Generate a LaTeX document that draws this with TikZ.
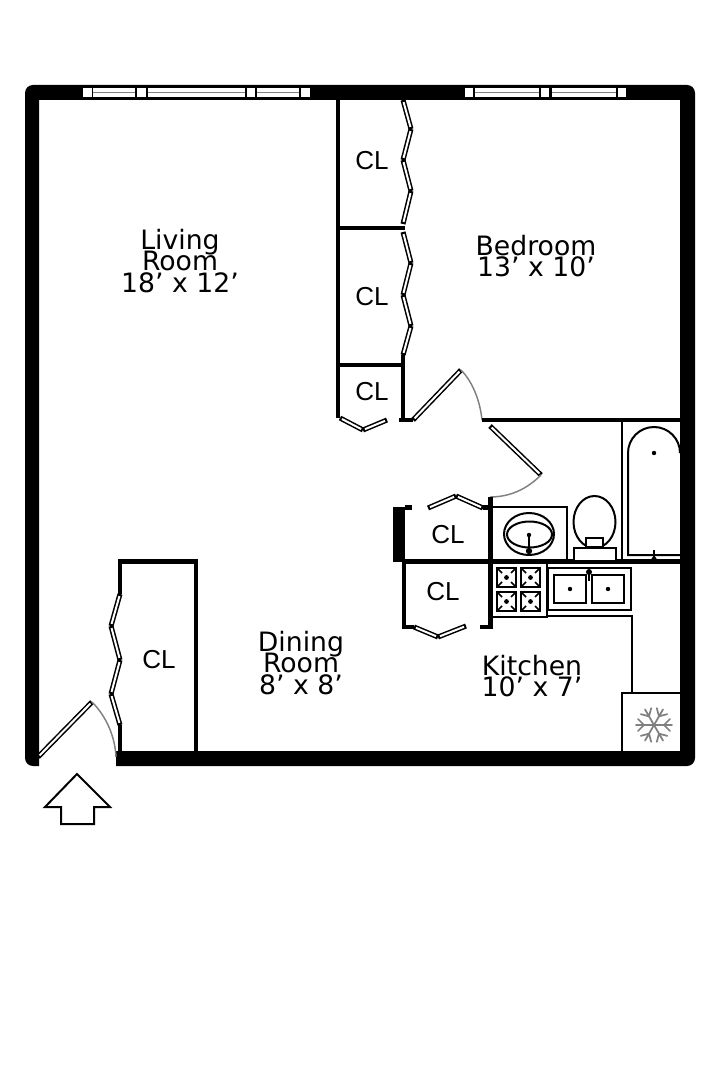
\documentclass[tikz,border=0pt]{standalone}
\usepackage{fontspec}
\setmainfont{Liberation Sans}
\newfontfamily\roomfont{DejaVu Sans}
\lineskiplimit=-30pt
\tikzset{
  wall/.style={line width=3.6pt,line cap=butt},
  thinwall/.style={line width=1.5pt},
  fixture/.style={line width=1.5pt},
  leafout/.style={draw=black,line width=3.8pt},
  leafin/.style={draw=white,line width=1.5pt,shorten <=1.6pt,shorten >=1.6pt},
  swing/.style={draw=black!50,line width=1.1pt},
  pane/.style={fill=white,draw=none},
  roomlabel/.style={font=\roomfont\fontsize{20}{16}\selectfont,align=center},
  closetlabel/.style={font=\fontsize{19.5}{20}\selectfont}
}
\newcommand{\leaf}[2]{\draw[leafout] (#1) -- (#2); \draw[leafin] (#1) -- (#2);}
\begin{document}
\begin{tikzpicture}[x=0.75pt,y=-0.75pt]
\useasboundingbox (0,0) rectangle (720,1080);
% outer walls
\fill (39,100) -- (39,766) [rounded corners=6pt] -- (25,766) -- (25,85) -- (695,85) -- (695,766) [sharp corners] -- (116,766) -- (116,751) -- (680,751) -- (680,100) -- cycle;
% windows
\foreach \a/\b in {83/92,137/146,247/255,301/310,465/473,541/549,618/626}
  \fill[pane] (\a,88) rectangle (\b,97);
\foreach \a/\b in {93/135,148/245,257/299,475/539,552/616}{
  \fill[pane] (\a,88) rectangle (\b,97);
  \draw[black!50,line width=1.2pt] (\a,92.5) -- (\b,92.5);
}
% closets by the bedroom
\draw[wall] (338,100) -- (338,418);
\draw[wall] (338,228) -- (405,228);
\draw[wall] (338,365) -- (405,365);
\draw[wall] (403,355) -- (403,422);
\draw[wall] (399,420) -- (413,420);
\leaf{403,100}{411,129} \leaf{411,129}{403,160} \leaf{403,160}{411,191} \leaf{411,191}{403,224}
\leaf{403,232}{411,263} \leaf{411,263}{403,295} \leaf{403,295}{411,326} \leaf{411,326}{403,355}
\leaf{340,418}{363,430} \leaf{363,430}{387,420}
% bedroom door and bath door
\leaf{413,420}{461,370}
\draw[swing] (461,370) .. controls (472,381) and (480,400) .. (482,420);
\draw[wall] (482,420) -- (680,420);
\leaf{490,426}{541,475}
\draw[swing] (541,475) .. controls (527,489) and (510,497) .. (490,497);
% walls round bath and kitchen
\draw[wall] (490.5,497) -- (490.5,629);
\draw[wall] (480,627) -- (492,627);
\draw[wall] (403,561.5) -- (680,561.5);
\draw[wall] (404,561.5) -- (404,629);
\draw[wall] (403,627) -- (414,627);
\fill (393,507) rectangle (405,562);
\draw[wall] (405,507.5) -- (412,507.5);
\draw[wall] (483,507.5) -- (490,507.5);
\leaf{428,508}{456,496} \leaf{456,496}{483,508}
\leaf{414,627}{438,637} \leaf{438,637}{466,626}
\draw[thinwall] (621.5,420) -- (621.5,561);
% tub
\draw[fixture] (680,555) -- (628,555) -- (628,453) arc[start angle=180,end angle=360,radius=26];
\fill (654,453) circle (2.2);
\draw[fixture] (654,550) -- (654,558);
\fill (650,561) -- (654,555) -- (658,561) -- cycle;
% vanity
\draw[fixture] (490,507) -- (567,507) -- (567,561);
\draw[fixture] (529,534) ellipse (25 and 21);
\draw[fixture] (529.5,534.5) ellipse (22.5 and 13);
\fill (529,535) circle (2.2);
\draw[fixture] (529,535) -- (529,551);
\fill (529,551) circle (3.2);
% toilet
\draw[fixture] (594.5,522) ellipse (21 and 26);
\draw[fixture,fill=white] (586,538) rectangle (603,547);
\draw[fixture,fill=white] (573.5,548) rectangle (615.5,561);
% stove
\draw[fixture] (491,563) rectangle (547,617);
\foreach \x in {497,521}
  \foreach \y in {568,592}{
    \draw[fixture] (\x,\y) rectangle (\x+19,\y+19);
    \fill (\x+9.5,\y+9.5) circle (2.4);
    \draw[line width=1.1pt] (\x+1,\y+1) -- (\x+5,\y+5) (\x+18,\y+1) -- (\x+14,\y+5)
      (\x+1,\y+18) -- (\x+5,\y+14) (\x+18,\y+18) -- (\x+14,\y+14);
  }
% kitchen sink and counter
\draw[fixture] (548,568) rectangle (631,610);
\draw[fixture] (554,575) rectangle (586,603);
\draw[fixture] (592,575) rectangle (624,603);
\fill (570,589) circle (2.2);
\fill (608,589) circle (2.2);
\fill (589,572) circle (3);
\draw[fixture] (589,572) -- (589,581);
\draw[fixture] (547,616) -- (632,616) -- (632,693);
% fridge
\draw[fixture] (622,751) -- (622,693) -- (680,693);
\begin{scope}[shift={(654,725)}]
  \foreach \r in {0,60,...,300}
    \draw[rotate=\r,black!50,line width=1.3pt,line cap=round]
      (0,0) -- (18,0) (10,0) -- (16,-6) (10,0) -- (16,6);
\end{scope}
% closet by the entry
\draw[wall] (118,561.5) -- (198,561.5);
\draw[wall] (196,560) -- (196,751);
\draw[wall] (120,560) -- (120,594);
\draw[wall] (120,725) -- (120,751);
\leaf{120,594}{111,626} \leaf{111,626}{120,660} \leaf{120,660}{111,694} \leaf{111,694}{120,725}
% entry door and arrow
\leaf{38,757}{92,702}
\draw[swing] (92,702) .. controls (106,716) and (115,736) .. (116,757);
\draw[fixture,fill=white] (77,774) -- (45,807) -- (61,807) -- (61,824) -- (94,824) -- (94,807) -- (110,807) -- cycle;
% labels
\node[closetlabel] (clA) at (372,161) {CL};
\node[closetlabel] (clB) at (372,297) {CL};
\node[closetlabel] (clC) at (372,392) {CL};
\node[closetlabel] (clD) at (448,535) {CL};
\node[closetlabel] (clE) at (443,592) {CL};
\node[closetlabel] (clF) at (159,660) {CL};
\node[roomlabel] (living) at (180,261) {Living\\Room\\18’ x 12’};
\node[roomlabel] (bedroom) at (536,256) {Bedroom\\13’ x 10’};
\node[roomlabel] (dining) at (301,663) {Dining\\Room\\8’ x 8’};
\node[roomlabel] (kitchen) at (532,676) {Kitchen\\10’ x 7’};
\end{tikzpicture}
\end{document}
